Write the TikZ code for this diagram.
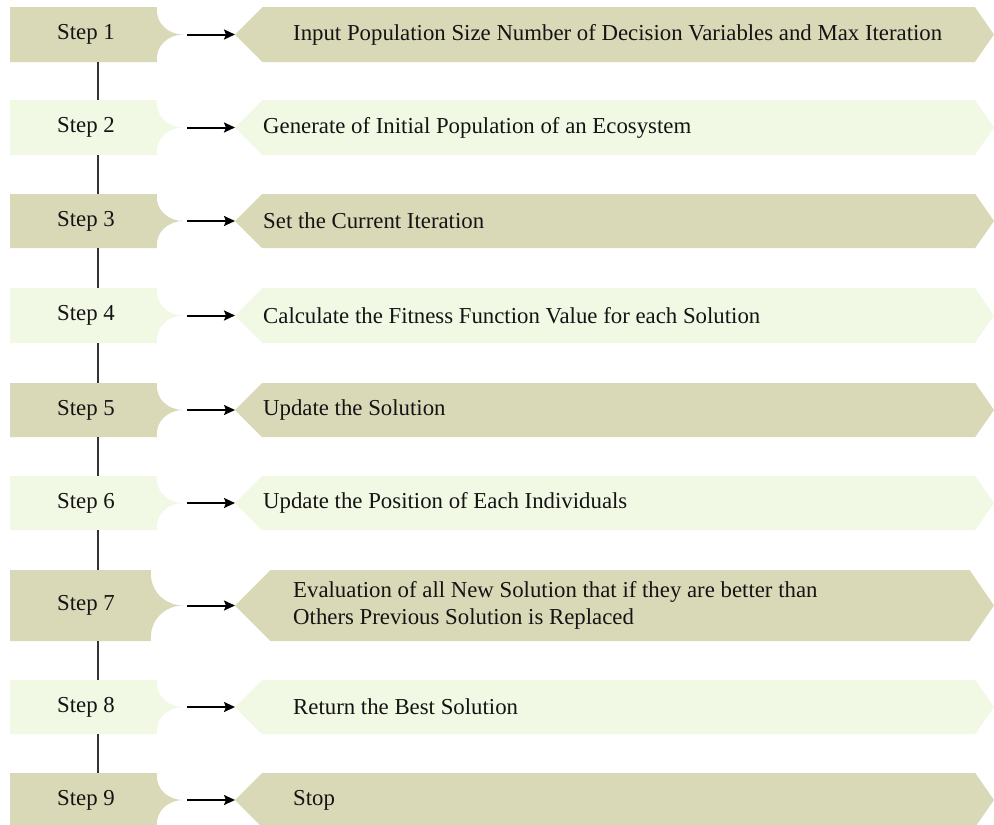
\documentclass[tikz,border=0pt]{standalone}
\usepackage{fontspec}
\setmainfont{Liberation Serif}
\usetikzlibrary{arrows.meta}
\definecolor{darkband}{RGB}{218,217,183}
\definecolor{lightband}{RGB}{241,248,228}
\definecolor{txt}{RGB}{20,20,20}
\tikzset{
  steplabel/.style={font=\fontsize{22.8}{27}\selectfont, text=txt, inner sep=0pt},
  tasktext/.style={font=\fontsize{22.8}{27}\selectfont, text=txt, anchor=west, align=left, inner sep=0pt},
  flow/.style={-{Stealth[length=11pt,width=10pt,inset=2pt]}, line width=2pt, draw=black},
  link/.style={line width=1.8pt, draw=black!80},
}
\newcommand\FlowRow[8]{%
  % #1 id, #2 top, #3 bottom, #4 colour, #5 step label, #6 text x, #7 text, #8 rect right
  \pgfmathsetmacro\yc{(#2+#3)/2}%
  \pgfmathsetmacro\hh{(#3-#2)/2}%
  \pgfmathsetmacro\cx{183-0.55*(183-#8)}%
  \fill[#4] (10,#2) -- (#8,#2) .. controls (#8-2,#2+0.6*\hh) and (\cx,\yc) .. (183,\yc)
        .. controls (\cx,\yc) and (#8-2,#3-0.6*\hh) .. (#8,#3) -- (10,#3) -- cycle;
  \fill[#4] (235,\yc) -- (235+\hh,#2) -- (993-0.66*\hh,#2) -- (994,\yc)
        -- (993-0.66*\hh,#3) -- (235+\hh,#3) -- cycle;
  \node[steplabel] (#1) at (86,\yc) {#5};
  \coordinate (#1-tip) at (187,\yc);
  \coordinate (#1-in) at (235,\yc);
  \coordinate (#1-top) at (98,#2);
  \coordinate (#1-bot) at (98,#3);
  \node[tasktext] (#1-t) at (#6,\yc) {#7};
  \draw[flow] (#1-tip) -- (#1-in);
}
\begin{document}
\begin{tikzpicture}[x=1pt,y=-1pt]
\useasboundingbox[fill=white] (0,0) rectangle (994,825);
\FlowRow{r1}{7}{62}{darkband}{Step 1}{293}{Input Population Size Number of Decision Variables and Max Iteration}{157}
\FlowRow{r2}{100}{155}{lightband}{Step 2}{263}{Generate of Initial Population of an Ecosystem}{157}
\FlowRow{r3}{194}{248}{darkband}{Step 3}{263}{Set the Current Iteration}{157}
\FlowRow{r4}{288}{343}{lightband}{Step 4}{263}{Calculate the Fitness Function Value for each Solution}{157}
\FlowRow{r5}{383}{437}{darkband}{Step 5}{263}{Update the Solution}{157}
\FlowRow{r6}{476}{530}{lightband}{Step 6}{263}{Update the Position of Each Individuals}{157}
\FlowRow{r7}{570}{641}{darkband}{Step 7}{293}{Evaluation of all New Solution that if they are better than\\Others Previous Solution is Replaced}{151}
\FlowRow{r8}{680}{734}{lightband}{Step 8}{293}{Return the Best Solution}{157}
\FlowRow{r9}{773}{827}{darkband}{Step 9}{293}{Stop}{157}
\draw[link] (r1-bot) -- (r2-top);
\draw[link] (r2-bot) -- (r3-top);
\draw[link] (r3-bot) -- (r4-top);
\draw[link] (r4-bot) -- (r5-top);
\draw[link] (r5-bot) -- (r6-top);
\draw[link] (r6-bot) -- (r7-top);
\draw[link] (r7-bot) -- (r8-top);
\draw[link] (r8-bot) -- (r9-top);
\end{tikzpicture}
\end{document}
